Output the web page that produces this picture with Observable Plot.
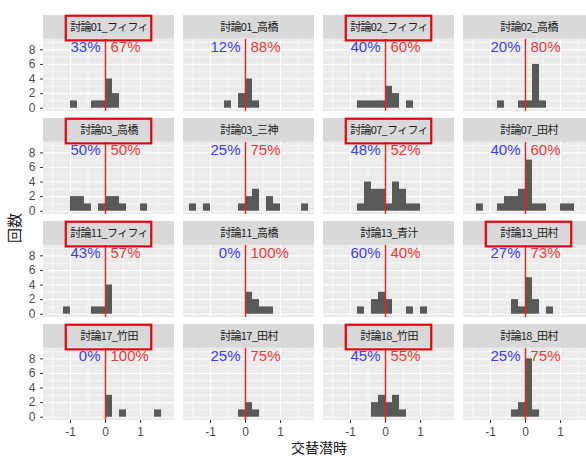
<!DOCTYPE html>
<html><head><meta charset="utf-8">
<script src="https://cdn.jsdelivr.net/npm/d3@7"></script>
<script src="https://cdn.jsdelivr.net/npm/@observablehq/plot@0.6"></script>
<style>
html,body{margin:0;padding:0;background:#fff;overflow:hidden;}
#chart{position:relative;width:586px;height:459px;overflow:hidden;}
#chart svg{max-width:none !important;}
</style></head><body><div id="chart"></div>
<script>
// ---- data ----
const panelNames = [
  "討論01_フィフィ","討論01_高橋","討論02_フィフィ","討論02_高橋",
  "討論03_高橋","討論03_三神","討論07_フィフィ","討論07_田村",
  "討論11_フィフィ","討論11_高橋","討論13_青汁","討論13_田村",
  "討論17_竹田","討論17_田村","討論18_竹田","討論18_田村"
];
const highlighted = ["討論01_フィフィ","討論02_フィフィ","討論03_高橋","討論07_フィフィ","討論11_フィフィ","討論13_田村","討論17_竹田","討論18_竹田"];
const negLabels = ["33%","12%","40%","20%","50%","25%","48%","40%","43%","0%","60%","27%","0%","25%","45%","25%"];
const posLabels = ["67%","88%","60%","80%","50%","75%","52%","60%","57%","100%","40%","73%","100%","75%","55%","75%"];
const binStarts = [
  [-1.0,-0.4,-0.2,0.0,0.2],
  [-0.6,-0.2,0.0,0.2],
  [-0.8,-0.6,-0.4,-0.2,0.0,0.2,0.6],
  [-0.8,-0.2,0.0,0.2,0.4],
  [-1.0,-0.8,-0.6,-0.2,0.0,0.2,0.4,1.0],
  [-1.6,-1.2,-0.2,0.0,0.2,0.6,0.8,1.6],
  [-0.8,-0.6,-0.4,-0.2,0.0,0.2,0.4,0.6,0.8],
  [-1.4,-0.8,-0.6,-0.4,-0.2,0.0,0.2,0.4,1.0,1.2],
  [-1.2,-0.4,-0.2,0.0],
  [0.0,0.2,0.4,0.6],
  [-0.8,-0.4,-0.2,0.0,0.6,1.0],
  [-0.4,-0.2,0.0,0.2,0.6],
  [0.0,0.4,1.4],
  [-0.2,0.0,0.2],
  [-0.4,-0.2,0.0,0.2,0.4],
  [-0.4,-0.2,0.0,0.2]
];
const binCounts = [
  [1,1,1,4,2],
  [1,2,4,1],
  [1,1,1,1,3,2,1],
  [1,1,1,6,1],
  [2,2,1,1,2,2,1,1],
  [1,1,1,2,3,2,1,1],
  [1,4,3,3,1,4,3,1,1],
  [1,1,2,2,3,7,1,1,1,1],
  [1,1,1,4],
  [3,2,1,1],
  [1,2,3,2,1,1],
  [2,1,5,2,1],
  [3,1,1],
  [1,2,1],
  [2,3,2,3,1],
  [1,2,8,1]
];
const binWidth = 0.2;
const xTicks = [-1, 0, 1];
const xMinor = [-1.5, -0.5, 0.5, 1.5];
const yTicks = [0, 2, 4, 6, 8];
const yMinor = [1, 3, 5, 7, 9];
const xLabel = "交替潜時";
const yLabel = "回数";

// ---- layout helpers (scale limits, ggplot-like expansion) ----
const X0 = -1.77, X1 = 1.97;
const Y0 = -0.45, Y1 = 9.45;
const STRIP = 3.255;
const XM = (X0 + X1) / 2;

const panels = panelNames.map((name, i) => ({
  name, col: i % 4, row: Math.floor(i / 4),
  neg: negLabels[i], pos: posLabels[i], hl: highlighted.includes(name)
}));
const bars = panels.flatMap((p, i) => binStarts[i].map((s, j) => ({
  col: p.col, row: p.row, x1: s, x2: Math.round((s + binWidth) * 100) / 100, y: binCounts[i][j]
})));

const num = "'Liberation Sans', Arial, sans-serif";
const cjk = "'Noto Sans CJK JP', sans-serif";

const plot = Plot.plot({
  width: 600, height: 470,
  marginLeft: 43, marginRight: 6, marginTop: 14, marginBottom: 48,
  fx: {domain: [0,1,2,3], paddingInner: 9/140, paddingOuter: 0, axis: null},
  fy: {domain: [0,1,2,3], paddingInner: 6.7/103.7, paddingOuter: 0, axis: null},
  x: {domain: [X0, X1]},
  y: {domain: [Y0, Y1 + STRIP]},
  style: {fontFamily: num, background: "white"},
  marks: [
    Plot.rect([0], {x1: X0, x2: X1, y1: Y0, y2: Y1, fill: "#EBEBEB"}),
    Plot.ruleY(yMinor, {x1: X0, x2: X1, stroke: "#FFFFFF", strokeWidth: 0.55}),
    Plot.ruleX(xMinor, {y1: Y0, y2: Y1, stroke: "#FFFFFF", strokeWidth: 0.55}),
    Plot.ruleY(yTicks, {x1: X0, x2: X1, stroke: "#FFFFFF", strokeWidth: 1.1}),
    Plot.ruleX(xTicks, {y1: Y0, y2: Y1, stroke: "#FFFFFF", strokeWidth: 1.1}),
    Plot.rect(bars, {fx: "col", fy: "row", x1: "x1", x2: "x2", y1: 0, y2: "y", fill: "#595959"}),
    Plot.ruleX([0], {y1: Y0, y2: Y1, stroke: "#FF1A1A", strokeWidth: 1.4}),
    Plot.text(panels, {fx: "col", fy: "row", x: 0, y: 9.15, text: "neg", dx: -5, textAnchor: "end", lineAnchor: "top", fill: "#3C3CF0", fontSize: 15}),
    Plot.text(panels, {fx: "col", fy: "row", x: 0, y: 9.15, text: "pos", dx: 5, textAnchor: "start", lineAnchor: "top", fill: "#EE3838", fontSize: 15}),
    Plot.rect([0], {x1: X0, x2: X1, y1: Y1, y2: Y1 + STRIP, fill: "#D9D9D9"}),
    Plot.text(panels, {fx: "col", fy: "row", x: XM, y: Y1 + STRIP / 2, text: "name", fill: "#1A1A1A", fontSize: 11, fontFamily: cjk}),
    Plot.rect(panels.filter(p => p.hl), {fx: "col", fy: "row", x1: XM - 1.22, x2: XM + 1.22, y1: Y1 - 0.22, y2: Y1 + STRIP - 0.1, fill: "none", stroke: "#E0060F", strokeWidth: 2.2}),
    Plot.axisY({ticks: yTicks, tickSize: 3, tickPadding: 5, fill: "#4D4D4D", stroke: "#333333", fontSize: 12, label: null}),
    Plot.axisX({ticks: xTicks, tickSize: 3, tickPadding: 4, tickFormat: d => String(d), fill: "#4D4D4D", stroke: "#333333", fontSize: 12, label: null})
  ]
});

document.getElementById("chart").appendChild(plot);
plot.style.maxWidth = "none";
const svg = d3.select(plot);
svg.selectAll("text").filter(function() { return panelNames.includes(this.textContent); })
  .style("letter-spacing", "-0.7px");
svg.append("text")
  .attr("transform", "translate(16,228) rotate(-90)")
  .attr("text-anchor", "middle").attr("dominant-baseline", "middle")
  .attr("font-family", cjk).attr("font-size", 15).attr("fill", "#1A1A1A")
  .text(yLabel);
svg.append("text")
  .attr("x", 319).attr("y", 453)
  .attr("text-anchor", "middle")
  .attr("font-family", cjk).attr("font-size", 14).attr("fill", "#1A1A1A")
  .text(xLabel);
</script>
</body></html>
